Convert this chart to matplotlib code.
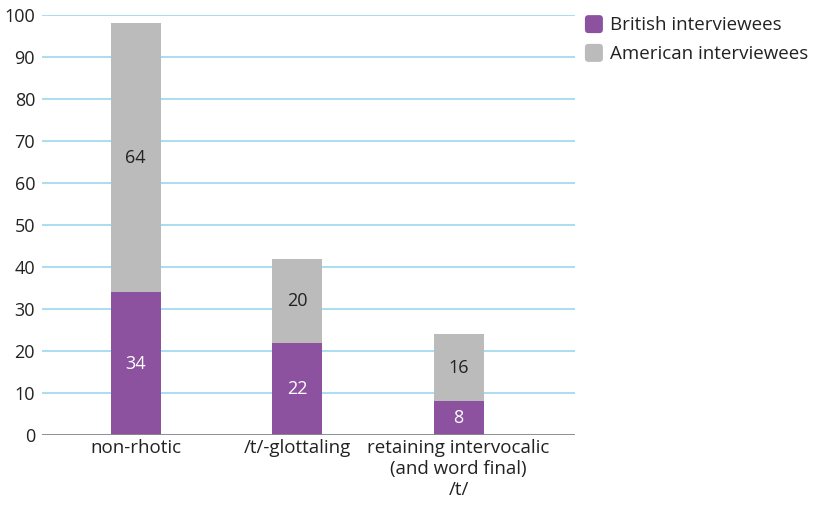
import numpy as np
import matplotlib.pyplot as plt
from matplotlib.container import BarContainer
from matplotlib.patches import FancyBboxPatch
from matplotlib.legend_handler import HandlerBase

plt.rcParams['font.family'] = ['Open Sans', 'DejaVu Sans']

categories = ["non-rhotic", "/t/-glottaling", "retaining intervocalic\n(and word final)\n/t/"]
british = [34, 22, 8]
american = [64, 20, 16]

purple = "#8c52a0"
grey = "#bbbbbb"


class RoundBoxHandler(HandlerBase):
    # legend keys drawn as small rounded squares
    def create_artists(self, legend, orig_handle, xdescent, ydescent, width, height, fontsize, trans):
        s = min(width, height)
        p = FancyBboxPatch((-xdescent + (width - s) / 2, -ydescent + (height - s) / 2), s, s,
                           boxstyle="round,pad=0,rounding_size=%f" % (s * 0.2),
                           facecolor=orig_handle.patches[0].get_facecolor(),
                           edgecolor="none", transform=trans)
        return [p]


fig = plt.figure(figsize=(8.16, 5.08), dpi=100)
ax = fig.add_axes([0.0515, 0.1437, 0.653, 0.827])

x = np.arange(len(categories))
w = 0.31
b1 = ax.bar(x, british, w, color=purple, label="British interviewees", zorder=3)
b2 = ax.bar(x, american, w, bottom=british, color=grey, label="American interviewees", zorder=3)

# value labels in the middle of each segment
for xi, b, a in zip(x, british, american):
    ax.text(xi, b / 2, str(b), ha="center", va="center", color="white", fontsize=13, zorder=4)
    ax.text(xi, b + a / 2, str(a), ha="center", va="center", color="#222222", fontsize=13, zorder=4)

ax.set_ylim(0, 100)
ax.set_xlim(-0.58, 2.72)
ax.set_yticks(range(0, 101, 10))
ax.set_xticks(x)
ax.set_xticklabels(categories, fontsize=13.5, color="#222222", linespacing=1.2)
ax.tick_params(axis="y", length=0, labelsize=13, labelcolor="#222222", pad=5)
ax.tick_params(axis="x", length=0, pad=3)
ax.yaxis.grid(True, color="#a3dbf0", linewidth=1.3, zorder=0)
for s in ["top", "right", "left", "bottom"]:
    ax.spines[s].set_visible(False)
ax.axhline(0, color="#8a8a8a", linewidth=1.3, zorder=5)

fig.legend(handles=[b1, b2], loc="upper left", bbox_to_anchor=(0.706, 0.985),
           frameon=False, fontsize=13.5, handlelength=1.1, handleheight=1.1,
           handletextpad=0.3, labelspacing=0.5, borderaxespad=0,
           handler_map={BarContainer: RoundBoxHandler()},
           labelcolor="#222222")

fig.savefig("out.png", dpi=100)
